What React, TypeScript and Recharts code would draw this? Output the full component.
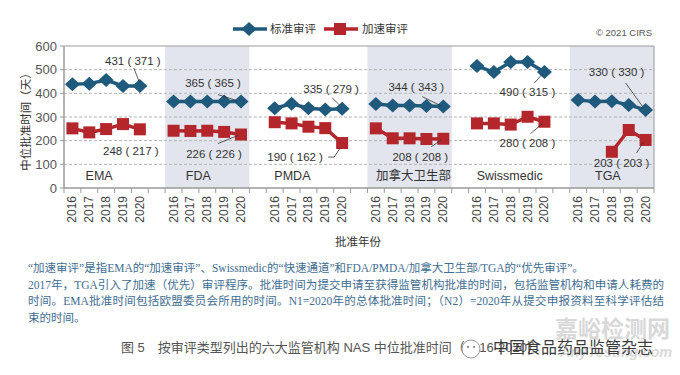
import React from 'react';
import { ComposedChart, Line, XAxis, YAxis, ReferenceArea, ReferenceLine, LabelList, Label } from 'recharts';

// ---------------- data ----------------
const agencies = ['EMA', 'FDA', 'PMDA', '加拿大卫生部', 'Swissmedic', 'TGA'];
const years = ['2016', '2017', '2018', '2019', '2020'];
const standardReview: (number | null)[][] = [
  [438, 441, 456, 431, 431],
  [366, 365, 365, 366, 365],
  [337, 356, 337, 332, 335],
  [355, 349, 349, 346, 344],
  [515, 490, 532, 532, 490],
  [372, 365, 367, 351, 330],
];
const acceleratedReview: (number | null)[][] = [
  [252, 235, 249, 270, 248],
  [242, 241, 242, 237, 226],
  [278, 273, 259, 253, 190],
  [252, 210, 210, 207, 208],
  [273, 273, 268, 301, 280],
  [null, null, 153, 245, 203],
];
const standardN2 = [371, 365, 279, 343, 315, 330];
const acceleratedN2 = [217, 226, 162, 208, 208, 203];
const shadedAgencies = ['FDA', '加拿大卫生部', 'TGA'];
const yTicks = [0, 100, 200, 300, 400, 500, 600];
const seriesNames = ['标准审评', '加速审评'];

// ---------------- styles ----------------
const BLUE = '#1f5a7d';
const RED = '#b3262c';
const SHADE = '#e2e5ed';
const AXIS = '#9a9a9a';
const SANS = "'Liberation Sans', Arial, 'Noto Sans CJK SC', sans-serif";
const SERIF = "'Liberation Serif', 'Times New Roman', 'Noto Sans CJK SC', serif";
const PLOT_W = 590;

type Row = { key: string; agency: string; year: string; gi: number; yi: number; std: number | null; acc: number | null };
const rows: Row[] = [];
agencies.forEach((a, gi) => {
  years.forEach((y, yi) => {
    rows.push({ key: `${a}-${y}`, agency: a, year: y, gi, yi, std: standardReview[gi][yi], acc: acceleratedReview[gi][yi] });
  });
  if (gi < agencies.length - 1) rows.push({ key: `gap-${gi}`, agency: '', year: '', gi, yi: -1, std: null, acc: null });
});
const rowByKey: Record<string, Row> = {};
rows.forEach((r) => (rowByKey[r.key] = r));
const BW = PLOT_W / rows.length;

// label layout offsets (style only)
const groupLabelDx = [-7, -9, -16, 4, -1, -4];
const stdLayout = [
  { tx: -7, ty: -25, lead: [[-6, -18], [-1, -5]] },
  { tx: -28, ty: -19, lead: [[-23, -7], [-4, -1]] },
  { tx: -11, ty: -20, lead: [[-10, -11], [-2, -3]] },
  { tx: -27, ty: -20, lead: [[-21, -10], [-3, -1]] },
  { tx: -17, ty: 20, lead: [[-10, 11], [-2, 2]] },
  { tx: -29, ty: -38, lead: [[-20, -27], [-2, -2]] },
];
const accLayout = [
  { tx: -9, ty: 22, lead: null },
  { tx: -27, ty: 19, lead: [[-23, 9], [-3, 1]] },
  { tx: -47, ty: 14, lead: [[-14, 14], [-8, 14], [-2, 5]] },
  { tx: -23, ty: 18, lead: [[-12, 8], [-2, 1]] },
  { tx: -17, ty: 21, lead: [[-14, 12], [-2, 2]] },
  { tx: -24, ty: 23, lead: [[-9, 13], [-2, 2]] },
];

const DiamondDot = (p: any) => {
  const { cx, cy, index } = p;
  if (cx == null || cy == null || p.value == null || Number.isNaN(cx) || Number.isNaN(cy)) return <g key={`d${index}`} />;
  return <path key={`d${index}`} d={`M${cx},${cy - 7} L${cx + 7.5},${cy} L${cx},${cy + 7} L${cx - 7.5},${cy} Z`} fill={BLUE} />;
};
const SquareDot = (p: any) => {
  const { cx, cy, index } = p;
  if (cx == null || cy == null || p.value == null || Number.isNaN(cx) || Number.isNaN(cy)) return <g key={`s${index}`} />;
  return <rect key={`s${index}`} x={cx - 6} y={cy - 6} width={12} height={12} fill={RED} />;
};

const makeAnno = (series: 'std' | 'acc') => (p: any) => {
  const { x, y, index } = p;
  const row = rows[index];
  if (!row || row.yi !== years.length - 1 || x == null || y == null) return null;
  const layout = series === 'std' ? stdLayout[row.gi] : accLayout[row.gi];
  const n1 = series === 'std' ? standardReview[row.gi][row.yi] : acceleratedReview[row.gi][row.yi];
  const n2 = series === 'std' ? standardN2[row.gi] : acceleratedN2[row.gi];
  return (
    <g key={`a-${series}-${index}`}>
      {layout.lead && (
        <polyline
          points={layout.lead.map(([dx, dy]) => `${x + dx},${y + dy}`).join(' ')}
          fill="none"
          stroke="#333"
          strokeWidth={0.8}
        />
      )}
      <text x={x + layout.tx} y={y + layout.ty} textAnchor="middle" dominantBaseline="central" fontSize={11.5} fill="#333" fontFamily={SANS}>
        {`${n1} ( ${n2} )`}
      </text>
    </g>
  );
};

const XTick = (p: any) => {
  const { x, y, payload, index } = p;
  const row = rowByKey[payload.value];
  const label = row ? row.year : '';
  const ty = y + 8;
  return (
    <g>
      <line x1={x - BW / 2} y1={y} x2={x - BW / 2} y2={y + 5} stroke={AXIS} />
      {index === rows.length - 1 && <line x1={x + BW / 2} y1={y} x2={x + BW / 2} y2={y + 5} stroke={AXIS} />}
      {label && (
        <text x={x} y={ty} transform={`rotate(-90, ${x}, ${ty})`} textAnchor="end" dominantBaseline="central" fontSize={12} fill="#444" fontFamily={SANS}>
          {label}
        </text>
      )}
    </g>
  );
};

const notes = [
  '“加速审评”是指EMA的“加速审评”、Swissmedic的“快速通道”和FDA/PMDA/加拿大卫生部/TGA的“优先审评”。',
  '2017年，TGA引入了加速（优先）审评程序。批准时间为提交申请至获得监管机构批准的时间，包括监管机构和申请人耗费的',
  '时间。EMA批准时间包括欧盟委员会所用的时间。N1=2020年的总体批准时间；（N2）=2020年从提交申报资料至科学评估结',
  '束的时间。',
];

export default function App() {
  return (
    <div style={{ position: 'absolute', left: 0, top: 0, width: 680, height: 375, background: '#fff', overflow: 'hidden', fontFamily: SANS }}>
      <ComposedChart width={680} height={250} data={rows} margin={{ top: 46, right: 26, bottom: 22, left: 24 }}>
        {agencies.map((a, gi) => (
          <ReferenceArea
            key={`area-${a}`}
            x1={`${a}-${years[0]}`}
            x2={`${a}-${years[years.length - 1]}`}
            y1={0}
            y2={600}
            fill={shadedAgencies.includes(a) ? SHADE : '#ffffff'}
            fillOpacity={shadedAgencies.includes(a) ? 1 : 0}
            stroke="none"
            ifOverflow="extendDomain"
          >
            <Label
              content={(lp: any) => {
                const vb = lp.viewBox || {};
                return (
                  <text x={vb.x + vb.width / 2 + groupLabelDx[gi]} y={vb.y + vb.height - 12} textAnchor="middle" dominantBaseline="central" fontSize={12.5} fill="#333" fontFamily={SANS}>
                    {a}
                  </text>
                );
              }}
            />
          </ReferenceArea>
        ))}
        {yTicks.filter((t) => t > 0 && t < 600).map((t) => (
          <ReferenceLine key={`g${t}`} y={t} stroke="#b5b5b5" strokeDasharray="3 2" />
        ))}
        <ReferenceArea y1={0} y2={600} fill="none" stroke={AXIS} strokeWidth={1} />
        <XAxis dataKey="key" scale="band" interval={0} tick={<XTick />} tickLine={false} tickSize={0} tickMargin={0} axisLine={{ stroke: AXIS }} height={40} />
        <YAxis
          domain={[0, 600]}
          ticks={yTicks}
          width={40}
          tickSize={4}
          tickMargin={3}
          tickLine={{ stroke: AXIS }}
          axisLine={{ stroke: AXIS }}
          tick={{ fontSize: 13, fill: '#555', fontFamily: SANS }}
        >
          <Label
            content={() => (
              <text x={26} y={119} transform="rotate(-90, 26, 119)" textAnchor="middle" dominantBaseline="central" fontSize={11.5} fill="#333" fontFamily={SANS}>
                中位批准时间（天）
              </text>
            )}
          />
        </YAxis>
        <Line dataKey="std" name={seriesNames[0]} stroke={BLUE} strokeWidth={3.5} dot={DiamondDot} activeDot={false} isAnimationActive={false} connectNulls={false}>
          <LabelList dataKey="std" content={makeAnno('std')} />
        </Line>
        <Line dataKey="acc" name={seriesNames[1]} stroke={RED} strokeWidth={3.5} dot={SquareDot} activeDot={false} isAnimationActive={false} connectNulls={false}>
          <LabelList dataKey="acc" content={makeAnno('acc')} />
        </Line>
      </ComposedChart>

      {/* legend */}
      <svg style={{ position: 'absolute', left: 228, top: 20 }} width={190} height={20}>
        <line x1={5} y1={9} x2={39} y2={9} stroke={BLUE} strokeWidth={3.5} />
        <path d="M21,2 L28.5,9 L21,16 L13.5,9 Z" fill={BLUE} />
        <text x={42} y={9} dominantBaseline="central" fontSize={11.5} fill="#333" fontFamily={SANS}>{seriesNames[0]}</text>
        <line x1={96} y1={9} x2={130} y2={9} stroke={RED} strokeWidth={3.5} />
        <rect x={106} y={3} width={12} height={12} fill={RED} />
        <text x={134} y={9} dominantBaseline="central" fontSize={11.5} fill="#333" fontFamily={SANS}>{seriesNames[1]}</text>
      </svg>
      <div style={{ position: 'absolute', right: 28, top: 27, fontSize: 9.5, color: '#555', lineHeight: '12px' }}>© 2021 CIRS</div>

      {/* x axis title */}
      <div style={{ position: 'absolute', left: 335, top: 234, fontSize: 11.5, color: '#333', lineHeight: '16px' }}>批准年份</div>

      {/* notes */}
      {notes.map((n, i) => (
        <div
          key={i}
          style={{
            position: 'absolute',
            left: 28,
            top: 260 + i * 16.6,
            width: i === 1 || i === 2 ? 636 : 'auto',
            whiteSpace: 'nowrap',
            fontFamily: SERIF,
            fontSize: 11.5,
            lineHeight: '16px',
            color: '#3f6d92',
            textAlign: i === 1 || i === 2 ? 'justify' : 'left',
            textAlignLast: i === 1 || i === 2 ? 'justify' : 'left',
          } as React.CSSProperties}
        >
          {n}
        </div>
      ))}

      {/* caption */}
      <div style={{ position: 'absolute', left: 121, top: 340, fontSize: 13, color: '#555', lineHeight: '16px', whiteSpace: 'nowrap' }}>
        图 5　按审评类型列出的六大监管机构 NAS 中位批准时间（2016-2020）
      </div>

      {/* watermark */}
      <div style={{ position: 'absolute', left: 555, top: 315, fontSize: 23, fontWeight: 'bold', color: 'rgba(190,190,190,0.6)', lineHeight: '28px', whiteSpace: 'nowrap' }}>嘉峪检测网</div>
      <div style={{ position: 'absolute', left: 560, top: 343, fontSize: 14.5, fontWeight: 'bold', fontStyle: 'italic', color: 'rgba(190,190,190,0.6)', lineHeight: '18px', whiteSpace: 'nowrap' }}>AnyTesting.com</div>
      <svg style={{ position: 'absolute', left: 459, top: 338 }} width={24} height={22}>
        <circle cx={12} cy={11} r={9} fill="#fff" stroke="#999" strokeWidth={1} />
        <circle cx={9} cy={9} r={1.2} fill="#999" />
        <circle cx={15} cy={9} r={1.2} fill="#999" />
      </svg>
      <div style={{ position: 'absolute', left: 493, top: 339, fontSize: 16, color: '#3a3a3a', lineHeight: '18px', whiteSpace: 'nowrap' }}>中国食品药品监管杂志</div>
    </div>
  );
}
